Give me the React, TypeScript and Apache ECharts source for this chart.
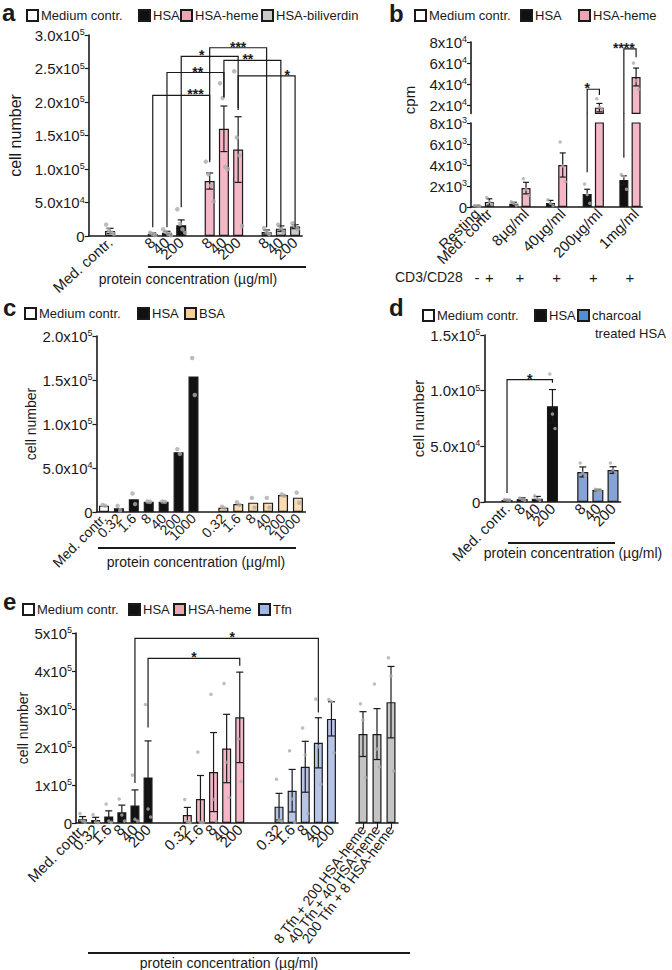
import React, { useEffect, useRef } from 'react';
import * as echarts from 'echarts';

const FONT = '"Liberation Sans", Arial, Helvetica, sans-serif';
const INK = '#1a1a1a';
type Num = number | null;

// ---------------- panel a ----------------
const aCategories = ['', 'Med. contr.', '', '', '8', '40', '200', '', '8', '40', '200', '', '8', '40', '200'];
const aGroups = ['', 'med', '', '', 'hsa', 'hsa', 'hsa', '', 'heme', 'heme', 'heme', '', 'bili', 'bili', 'bili'];
const aMeans: Num[] = [null, 7500, null, null, 3000, 5000, 16000, null, 82000, 160000, 129000, null, 6000, 11000, 14000];
const aSems: Num[] = [null, 4000, null, null, 1500, 2000, 8000, null, 12000, 34000, 49000, null, 3000, 4000, 3000];
const aDots: number[][] = [[], [17000, 9000, 5000, 3000], [], [], [5000, 3000, 1000], [10000, 6000, 3000, 1000], [40000, 18000, 10000, 5000], [], [111000, 92000, 75000, 52000], [228000, 206000, 103000, 100000], [246000, 147000, 120000, 15000], [], [12000, 6000, 3000], [17000, 12000, 6000], [19000, 15000, 10000]];
const aTicks = [0, 50000, 100000, 150000, 200000, 250000, 300000];
const aBrackets = [[4, 8, 210000, 13000, 110000], [5, 9, 244000, 13000, 207000], [6, 10, 268000, 43000, 191000], [8, 12, 281000, 113000, 13000], [9, 13, 262000, 207000, 13000], [10, 14, 239000, 188000, 13000]];
const aBracketLabels = ['***', '**', '*', '***', '**', '*'];
const aBracketLabelAt = [0.75, 0.54, 0.36, 0.5, 0.42, 0.86];

// ---------------- panel b ----------------
const bCategories = ['Resting', 'Med. contr', '', '', '8µg/ml', '', '', '40µg/ml', '', '', '200µg/ml', '', '', '1mg/ml'];
const bGroups = ['med', 'med', '', 'hsa', 'heme', '', 'hsa', 'heme', '', 'hsa', 'heme', '', 'hsa', 'heme'];
const bMeans: Num[] = [120, 480, null, 300, 1800, null, 380, 4000, null, 1240, 17500, null, 2570, 46700];
const bSems: Num[] = [40, 300, null, 150, 550, null, 250, 1150, null, 450, 4000, null, 400, 8500];
const bDots: number[][] = [[150, 100, 80], [900, 500, 250], [], [500, 350, 150], [2700, 1700, 1100], [], [700, 350, 150], [6200, 3900, 2400], [], [2200, 1200, 350], [26000, 18000, 16000], [], [3100, 2900, 1700], [60000, 43000, 35000]];
const bLowTicks = [0, 2000, 4000, 6000, 8000];
const bHighTicks = [20000, 40000, 60000, 80000];
const bLowMax = 8000;
const bHighMin = 12000;
const bHighMax = 80000;
const bBrackets = [[9, 10, 35000, 3300, 29500], [12, 13, 73500, 4700, 65500]];
const bBracketLabels = ['*', '****'];
const bBracketLabelAt = [0.0, 0.0];
const bCD3Slots = [[0, 0], [1, 1], [3, 4], [6, 7], [9, 10], [12, 13]];
const bCD3Signs = ['-', '+', '+', '+', '+', '+'];

// ---------------- panel c ----------------
const cCategories = ['Med. contr.', '0.32', '1.6', '8', '40', '200', '1000', '', '0.32', '1.6', '8', '40', '200', '1000'];
const cGroups = ['med', 'hsa', 'hsa', 'hsa', 'hsa', 'hsa', 'hsa', '', 'bsa', 'bsa', 'bsa', 'bsa', 'bsa', 'bsa'];
const cMeans: Num[] = [7200, 4200, 14400, 11700, 11700, 68000, 154000, null, 4900, 9000, 10600, 10600, 19300, 16300];
const cDots: number[][] = [[8000, 7000], [7000, 2000], [21000, 9000], [12000, 11500], [12000, 11500], [71500, 66000], [175000, 133000], [], [6000, 4000], [11000, 8000], [16000, 5000], [16000, 5000], [20000, 18500], [22000, 10500]];
const cTicks = [0, 50000, 100000, 150000, 200000];

// ---------------- panel d ----------------
const dCategories = ['', 'Med. contr.', '8', '40', '200', '', '8', '40', '200'];
const dGroups = ['', 'med', 'hsa', 'hsa', 'hsa', '', 'char', 'char', 'char'];
const dMeans: Num[] = [null, 1800, 2700, 3000, 86000, null, 27000, 10800, 28700];
const dSems: Num[] = [null, 500, 1000, 2000, 15000, null, 4500, 600, 3000];
const dDots: number[][] = [[], [2200, 1800, 1500], [3500, 2200, 1500], [5500, 3000, 1500], [115000, 79000, 66000], [], [35000, 26000, 23000], [11500, 10500, 10000], [35000, 29000, 26000]];
const dTicks = [0, 50000, 100000, 150000];
const dBrackets = [[1, 4, 110000, 8000, 107000]];
const dBracketLabels = ['*'];
const dBracketLabelAt = [0.5];

// ---------------- panel e ----------------
const eCategories = ['Med. contr.', '0.32', '1.6', '8', '40', '200', '', '', '0.32', '1.6', '8', '40', '200', '', '', '0.32', '1.6', '8', '40', '200'];
const eGroups = ['med', 'hsa', 'hsa', 'hsa', 'hsa', 'hsa', '', '', 'heme', 'heme', 'heme', 'heme', 'heme', '', '', 'tfn', 'tfn', 'tfn', 'tfn', 'tfn'];
const eMeans: Num[] = [10000, 8000, 17000, 28000, 46000, 120000, null, null, 21000, 63000, 134000, 196000, 278000, null, null, 43000, 85000, 148000, 211000, 274000];
const eSems: Num[] = [7000, 7000, 15000, 19000, 41000, 96000, null, null, 20000, 62000, 104000, 90000, 119000, null, null, 35000, 56000, 67000, 66000, 45000];
const eDots: number[][] = [[25000, 5000, 2000], [22000, 3000, 1000], [50000, 5000, 2000], [63000, 21000, 5000], [126000, 10000, 5000], [312000, 37000, 16000], [], [], [62000, 3000, 1000], [187000, 2000, 1000], [339000, 62000, 5000], [367000, 160000, 67000], [221000, 109000], [], [], [115000, 8000, 5000], [190000, 63000, 2000], [250000, 179000, 25000], [326000, 201000, 102000], [325000, 320000, 185000]];
const eComboCategories = ['8 Tfn + 200 HSA-heme', '40 Tfn + 40 HSA-heme', '200 Tfn + 8 HSA-heme'];
const eComboGroups = ['combo', 'combo', 'combo'];
const eComboMeans: Num[] = [234000, 234000, 318000];
const eComboSems: Num[] = [59000, 67000, 94000];
const eComboDots: number[][] = [[314000, 271000, 120000], [366000, 195000, 148000], [435000, 387000, 137000]];
const eTicks = [0, 100000, 200000, 300000, 400000, 500000];
const eBrackets = [[4, 18, 486000, 105000, 291000], [5, 12, 433000, 251000, 414000]];
const eBracketLabels = ['*', '*'];
const eBracketLabelAt = [0.53, 0.5];

const STYLE: Record<string, { name: string; color: string }> = {
  med: { name: 'Medium contr.', color: '#ffffff' },
  hsa: { name: 'HSA', color: '#111111' },
  heme: { name: 'HSA-heme', color: '#f4b7c5' },
  bili: { name: 'HSA-biliverdin', color: '#cacaca' },
  bsa: { name: 'BSA', color: '#fbdcb2' },
  char: { name: 'charcoal treated HSA', color: '#86a3d6' },
  tfn: { name: 'Tfn', color: '#b7c4e7' },
  combo: { name: 'Tfn + HSA-heme', color: '#c4c4c4' },
};

const errRender = (cap: number) => (params: any, api: any) => {
  const x = api.value(0);
  const a = api.coord([x, api.value(2)]);
  const b = api.coord([x, api.value(1)]);
  const st = { stroke: INK, lineWidth: 1.2 };
  return {
    type: 'group',
    children: [
      { type: 'line', shape: { x1: a[0], y1: a[1], x2: b[0], y2: b[1] }, style: st },
      { type: 'line', shape: { x1: a[0] - cap, y1: a[1], x2: a[0] + cap, y2: a[1] }, style: st },
      { type: 'line', shape: { x1: b[0] - cap, y1: b[1], x2: b[0] + cap, y2: b[1] }, style: st },
    ],
  };
};

const bracketRender = (labels: string[], at: number[], clampMin: number | null) => (params: any, api: any) => {
  const x1 = api.value(0), x2 = api.value(1), top = api.value(2);
  let b1 = api.value(3), b2 = api.value(4);
  if (clampMin != null) { b1 = Math.max(b1, clampMin); b2 = Math.max(b2, clampMin); }
  const p1 = api.coord([x1, top]), p2 = api.coord([x2, top]);
  const q1 = api.coord([x1, b1]), q2 = api.coord([x2, b2]);
  const f = at[params.dataIndex];
  return {
    type: 'group',
    children: [
      { type: 'polyline', shape: { points: [q1, p1, p2, q2] }, style: { stroke: INK, lineWidth: 1.2, fill: null } },
      {
        type: 'text', x: p1[0] + (p2[0] - p1[0]) * f, y: p1[1] - 1,
        style: { text: labels[params.dataIndex], fontSize: 14, fontWeight: 'bold', fill: INK, align: 'center', verticalAlign: 'middle', fontFamily: FONT, lineHeight: 9 },
      },
    ],
  };
};

interface PanelSpec {
  axis: number; groups: string[]; means: Num[]; sems: Num[] | null; dots: number[][];
  barWidth: number; dotSize: number; cap: number; lo?: number; hi?: number;
}

function panelSeries(p: PanelSpec): any[] {
  const out: any[] = [];
  const keys: string[] = [];
  p.groups.forEach((g) => { if (g && !keys.includes(g)) keys.push(g); });
  keys.forEach((k) => {
    out.push({
      type: 'bar', name: STYLE[k].name, xAxisIndex: p.axis, yAxisIndex: p.axis,
      barWidth: p.barWidth, barGap: '-100%', silent: true, clip: true, z: 2,
      itemStyle: { color: STYLE[k].color, borderColor: INK, borderWidth: 1.2 },
      data: p.means.map((v, i) => (p.groups[i] === k && v != null && (p.lo == null || v >= p.lo) ? v : '-')),
    });
  });
  if (p.sems) {
    const errs: number[][] = [];
    p.means.forEach((v, i) => {
      const s = p.sems![i];
      if (v == null || s == null) return;
      if (p.lo != null && v < p.lo) return;
      if (p.hi != null && v > p.hi) return;
      errs.push([i, Math.max(0, v - s), v + s]);
    });
    out.push({
      type: 'custom', xAxisIndex: p.axis, yAxisIndex: p.axis, silent: true, z: 3,
      encode: { x: 0, y: [1, 2] }, data: errs, renderItem: errRender(p.cap),
    });
  }
  const pts: any[] = [];
  p.dots.forEach((arr, i) => arr.forEach((v, j) => pts.push({ value: [i, v], symbolOffset: [(j - (arr.length - 1) / 2) * 2.6, 0] })));
  out.push({
    type: 'scatter', xAxisIndex: p.axis, yAxisIndex: p.axis, silent: true, clip: true, z: 4,
    symbolSize: p.dotSize, itemStyle: { color: '#acacac' }, data: pts,
  });
  return out;
}

function bracketSeries(axis: number, data: number[][], labels: string[], at: number[], clampMin: number | null = null) {
  return {
    type: 'custom', xAxisIndex: axis, yAxisIndex: axis, silent: true, z: 5, clip: false,
    encode: { x: [0, 1], y: [2, 3, 4] }, data, renderItem: bracketRender(labels, at, clampMin),
  };
}

function sci(dec: number) {
  return (v: number) => {
    if (!v) return '0';
    const e = Math.floor(Math.log10(v) + 1e-9);
    const m = v / Math.pow(10, e);
    return `{m|${m.toFixed(dec)}x10}{s|${e}}`;
  };
}
const RICH = {
  m: { fontSize: 15, fontFamily: FONT, color: INK },
  s: { fontSize: 9, fontFamily: FONT, color: INK, verticalAlign: 'top' },
};

function yAx(grid: number, min: number, max: number, ticks: number[], dec: number, name = '', nameGap = 0, nameSize = 14) {
  return {
    type: 'value', gridIndex: grid, min, max,
    axisLine: { show: true, lineStyle: { color: INK, width: 1.6 } },
    axisTick: { show: true, length: 4, customValues: ticks, lineStyle: { color: INK, width: 1.2 } },
    axisLabel: { customValues: ticks, formatter: sci(dec), rich: RICH, fontSize: 15, fontFamily: FONT, color: INK, margin: 4 },
    splitLine: { show: false },
    name, nameLocation: 'middle', nameGap,
    nameTextStyle: { fontSize: nameSize, fontFamily: FONT, color: INK },
  };
}

function xAx(grid: number, cats: string[], fontSize: number, rotate: number, show = true, ticks = false) {
  return {
    type: 'category', gridIndex: grid, data: cats, show,
    axisLine: { lineStyle: { color: INK, width: 1.6 } },
    axisTick: { show: ticks, alignWithLabel: true, length: 5, lineStyle: { color: INK, width: 1.2 } },
    axisLabel: { interval: 0, rotate, fontSize, fontFamily: FONT, color: INK, margin: 4 },
    splitLine: { show: false },
  };
}

function legendItem(name: string, left: number, cy: number, color?: string, label?: string) {
  return {
    data: [color ? { name, itemStyle: { color } } : { name }],
    left, top: cy - 8, padding: 0, icon: 'rect', itemWidth: 11, itemHeight: 11,
    selectedMode: false,
    formatter: label ? () => label : undefined,
    textStyle: { fontSize: 13, fontFamily: FONT, color: INK, padding: [0, 0, 0, -2] },
  };
}

function txt(text: string, x: number, y: number, size: number, opts: any = {}) {
  return {
    type: 'text', x, y, rotation: opts.rotation || 0, silent: true,
    style: { text, fontSize: size, fontWeight: opts.weight || 'normal', fontFamily: FONT, fill: INK, align: opts.align || 'center', verticalAlign: 'middle' },
  };
}
function hline(x1: number, x2: number, y: number) {
  return { type: 'line', silent: true, shape: { x1, y1: y, x2, y2: y }, style: { stroke: INK, lineWidth: 2 } };
}

const PC = 'protein concentration (µg/ml)';

function buildOption(): any {
  const series: any[] = [
    ...panelSeries({ axis: 0, groups: aGroups, means: aMeans, sems: aSems, dots: aDots, barWidth: 10, dotSize: 4.5, cap: 3.5 }),
    bracketSeries(0, aBrackets, aBracketLabels, aBracketLabelAt),
    ...panelSeries({ axis: 1, groups: bGroups, means: bMeans, sems: bSems, dots: bDots, barWidth: 9, dotSize: 3.5, cap: 3, lo: bHighMin }),
    ...panelSeries({ axis: 2, groups: bGroups, means: bMeans, sems: bSems, dots: bDots, barWidth: 9, dotSize: 3.5, cap: 3, hi: bLowMax }),
    bracketSeries(1, bBrackets, bBracketLabels, bBracketLabelAt, bHighMin),
    {
      type: 'custom', xAxisIndex: 2, yAxisIndex: 2, silent: true, z: 5, clip: false,
      encode: { x: 0, y: [1, 2] },
      data: bBrackets.filter((b) => b[3] < bLowMax).map((b) => [b[0], b[3], bLowMax]),
      renderItem: (params: any, api: any) => {
        const p = api.coord([api.value(0), api.value(1)]);
        const q = api.coord([api.value(0), api.value(2)]);
        return { type: 'line', shape: { x1: p[0], y1: p[1], x2: q[0], y2: q[1] - 10 }, style: { stroke: INK, lineWidth: 1.2 } };
      },
    },
    {
      type: 'custom', xAxisIndex: 2, yAxisIndex: 2, silent: true, z: 5, clip: false,
      encode: { x: [0, 1], y: 2 },
      data: bCD3Slots.map((s) => [s[0], s[1], 0]),
      renderItem: (params: any, api: any) => {
        const a = api.coord([api.value(0), 0]);
        const b = api.coord([api.value(1), 0]);
        return {
          type: 'text', x: (a[0] + b[0]) / 2, y: a[1] + 70,
          style: { text: bCD3Signs[params.dataIndex], fontSize: 15, fill: INK, align: 'center', verticalAlign: 'middle', fontFamily: FONT },
        };
      },
    },
    ...panelSeries({ axis: 3, groups: cGroups, means: cMeans, sems: null, dots: cDots, barWidth: 10, dotSize: 4.5, cap: 3 }),
    ...panelSeries({ axis: 4, groups: dGroups, means: dMeans, sems: dSems, dots: dDots, barWidth: 11, dotSize: 3.5, cap: 3.5 }),
    bracketSeries(4, dBrackets, dBracketLabels, dBracketLabelAt),
    ...panelSeries({ axis: 5, groups: eGroups, means: eMeans, sems: eSems, dots: eDots, barWidth: 9, dotSize: 3.5, cap: 3.5 }),
    bracketSeries(5, eBrackets, eBracketLabels, eBracketLabelAt),
    ...panelSeries({ axis: 6, groups: eComboGroups, means: eComboMeans, sems: eComboSems, dots: eComboDots, barWidth: 9, dotSize: 3.5, cap: 3.5 }),
  ];

  return {
    animation: false,
    backgroundColor: '#ffffff',
    textStyle: { fontFamily: FONT },
    grid: [
      { left: 88.7, top: 35, width: 213.5, height: 201 },
      { left: 471, top: 42, width: 171.2, height: 71.4 },
      { left: 471, top: 123, width: 171.2, height: 84 },
      { left: 96.5, top: 336, width: 208.9, height: 176 },
      { left: 484.3, top: 335, width: 136.3, height: 167 },
      { left: 76, top: 633, width: 262, height: 190 },
      { left: 356, top: 633, width: 42, height: 190 },
    ],
    xAxis: [
      xAx(0, aCategories, 15, 42),
      xAx(1, bCategories, 15, 45, false),
      xAx(2, bCategories, 15, 45),
      xAx(3, cCategories, 14, 45),
      xAx(4, dCategories, 15, 45),
      xAx(5, eCategories, 15, 45),
      xAx(6, eComboCategories, 14, 53, true, true),
    ],
    yAxis: [
      yAx(0, 0, 300000, aTicks, 1, 'cell number', 65, 16),
      yAx(1, bHighMin, bHighMax, bHighTicks, 0),
      yAx(2, 0, bLowMax, bLowTicks, 0),
      yAx(3, 0, 200000, cTicks, 1, 'cell number', 59, 14),
      yAx(4, 0, 150000, dTicks, 1, 'cell number', 51, 15),
      yAx(5, 0, 500000, eTicks, 0, 'cell number', 46, 14),
      { type: 'value', gridIndex: 6, min: 0, max: 500000, show: false },
    ],
    legend: [
      legendItem('Medium contr.', 26, 17),
      legendItem('HSA', 138, 17),
      legendItem('HSA-heme', 180, 17, '#f0a3b3'),
      legendItem('HSA-biliverdin', 261, 17, '#c8c8c8'),
      legendItem('Medium contr.', 414, 17),
      legendItem('HSA', 520, 17),
      legendItem('HSA-heme', 578, 17, '#f0a3b3'),
      legendItem('Medium contr.', 24, 315),
      legendItem('HSA', 137, 315),
      legendItem('BSA', 184, 315, '#f8cf95'),
      legendItem('Medium contr.', 422, 317),
      legendItem('HSA', 534, 317),
      legendItem('charcoal treated HSA', 577, 317, '#4f8fd8', 'charcoal'),
      legendItem('Medium contr.', 22, 611),
      legendItem('HSA', 128, 611),
      legendItem('HSA-heme', 173, 611, '#f0a3b3'),
      legendItem('Tfn', 258, 611, '#9fb6e8'),
    ],
    graphic: [
      txt('a', 2, 12, 24, { weight: 'bold', align: 'left' }),
      txt('b', 389, 13, 24, { weight: 'bold', align: 'left' }),
      txt('c', 3, 307, 24, { weight: 'bold', align: 'left' }),
      txt('d', 389, 307, 24, { weight: 'bold', align: 'left' }),
      txt('e', 3, 601, 24, { weight: 'bold', align: 'left' }),
      hline(148, 306, 267), txt(PC, 188, 279, 14),
      hline(98, 296, 548), txt(PC, 196, 562, 14),
      hline(508, 615, 543), txt(PC, 573, 553, 14),
      hline(88, 410, 953), txt(PC, 229, 963, 14),
      txt('cpm', 409, 100, 15, { rotation: Math.PI / 2 }),
      txt('CD3/CD28', 395, 277, 14, { align: 'left' }),
      txt('treated HSA', 595, 333, 13, { align: 'left' }),
    ],
    series,
  };
}

export default function App() {
  const ref = useRef<HTMLDivElement>(null);
  useEffect(() => {
    document.body.style.margin = '0';
    const chart = echarts.init(ref.current!, null, { renderer: 'svg' });
    chart.setOption(buildOption());
    return () => chart.dispose();
  }, []);
  return <div ref={ref} style={{ position: 'absolute', left: 0, top: 0, width: 672, height: 970, background: '#fff' }} />;
}
